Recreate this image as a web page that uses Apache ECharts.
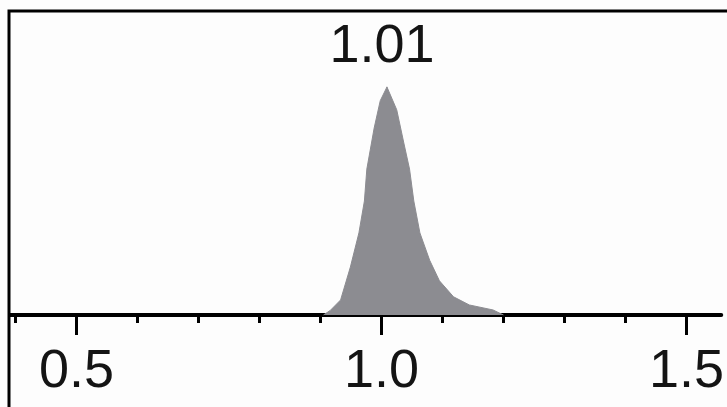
<!DOCTYPE html>
<html>
<head>
<meta charset="utf-8">
<script src="https://cdn.jsdelivr.net/npm/echarts@6/dist/echarts.min.js"></script>
<style>
html, body { margin: 0; padding: 0; background: #fdfdfd; }
#main { width: 727px; height: 407px; }
</style>
</head>
<body>
<div id="main"></div>
<script>
// 峰的轮廓（横坐标，相对高度）
var xValues = [0.905, 0.916, 0.933, 0.949, 0.963, 0.972, 0.976, 0.988, 0.998, 1.009, 1.025, 1.037, 1.046, 1.053, 1.063, 1.079, 1.095, 1.118, 1.144, 1.183, 1.2];
var yValues = [0, 2, 6.6, 21, 36, 50, 64, 82, 94, 100, 90, 75, 64, 50, 36, 24, 15, 8, 4.4, 2.2, 0];
var peakIndex = 9;
// 刻度
var majorTicks = [0.5, 1.0, 1.5];
var minorTicks = [0.4, 0.6, 0.7, 0.8, 0.9, 1.1, 1.2, 1.3, 1.4];
var axisMin = 0.391;
var axisMax = 1.557;

var font = '"Liberation Sans", Arial, sans-serif';
var echart = echarts.init(document.getElementById('main'));

var points = xValues.map(function(x, i){
	var item = { value: [x, yValues[i]] };
	if(i == peakIndex){
		item.symbol = 'circle';
		item.symbolSize = 1;
		item.label = {
			show : true,
			position : 'top',
			distance : 12,
			offset : [-5, 0],
			formatter : function(p){ return p.value[0].toFixed(2); },
			fontFamily : font,
			fontSize : 54,
			color : '#141414'
		};
	}
	return item;
});

var option = {
	backgroundColor : '#fdfdfd',
	animation : false,
	grid : {
		left : 10,
		right : 0,
		top : 87,
		bottom : 92
	},
	xAxis : [
		{
			type : 'value',
			min : axisMin,
			max : axisMax,
			splitLine : { show : false },
			axisLine : { lineStyle : { color : '#000', width : 4 } },
			axisTick : { customValues : majorTicks, length : 20, lineStyle : { color : '#000', width : 3 } },
			axisLabel : {
				customValues : majorTicks,
				margin : 30,
				fontFamily : font,
				fontSize : 54,
				color : '#141414',
				formatter : function(v){ return v.toFixed(1); }
			}
		},
		{
			type : 'value',
			position : 'bottom',
			min : axisMin,
			max : axisMax,
			splitLine : { show : false },
			axisLine : { show : false },
			axisTick : { customValues : minorTicks, length : 8, lineStyle : { color : '#000', width : 3 } },
			axisLabel : { show : false }
		}
	],
	yAxis : {
		type : 'value',
		min : 0,
		max : 100,
		show : false
	},
	series : [
		{
			type : 'line',
			data : points,
			symbol : 'none',
			lineStyle : { color : '#8c8c91', width : 1 },
			areaStyle : { color : '#8c8c91', opacity : 1 },
			itemStyle : { color : '#8c8c91' },
			z : 1
		}
	],
	graphic : [
		{ type : 'rect', z : 101, shape : { x : 9, y : 11, width : 800, height : 500 }, style : { fill : null, stroke : '#000', lineWidth : 3 } }
	]
};
echart.setOption(option);
</script>
</body>
</html>
